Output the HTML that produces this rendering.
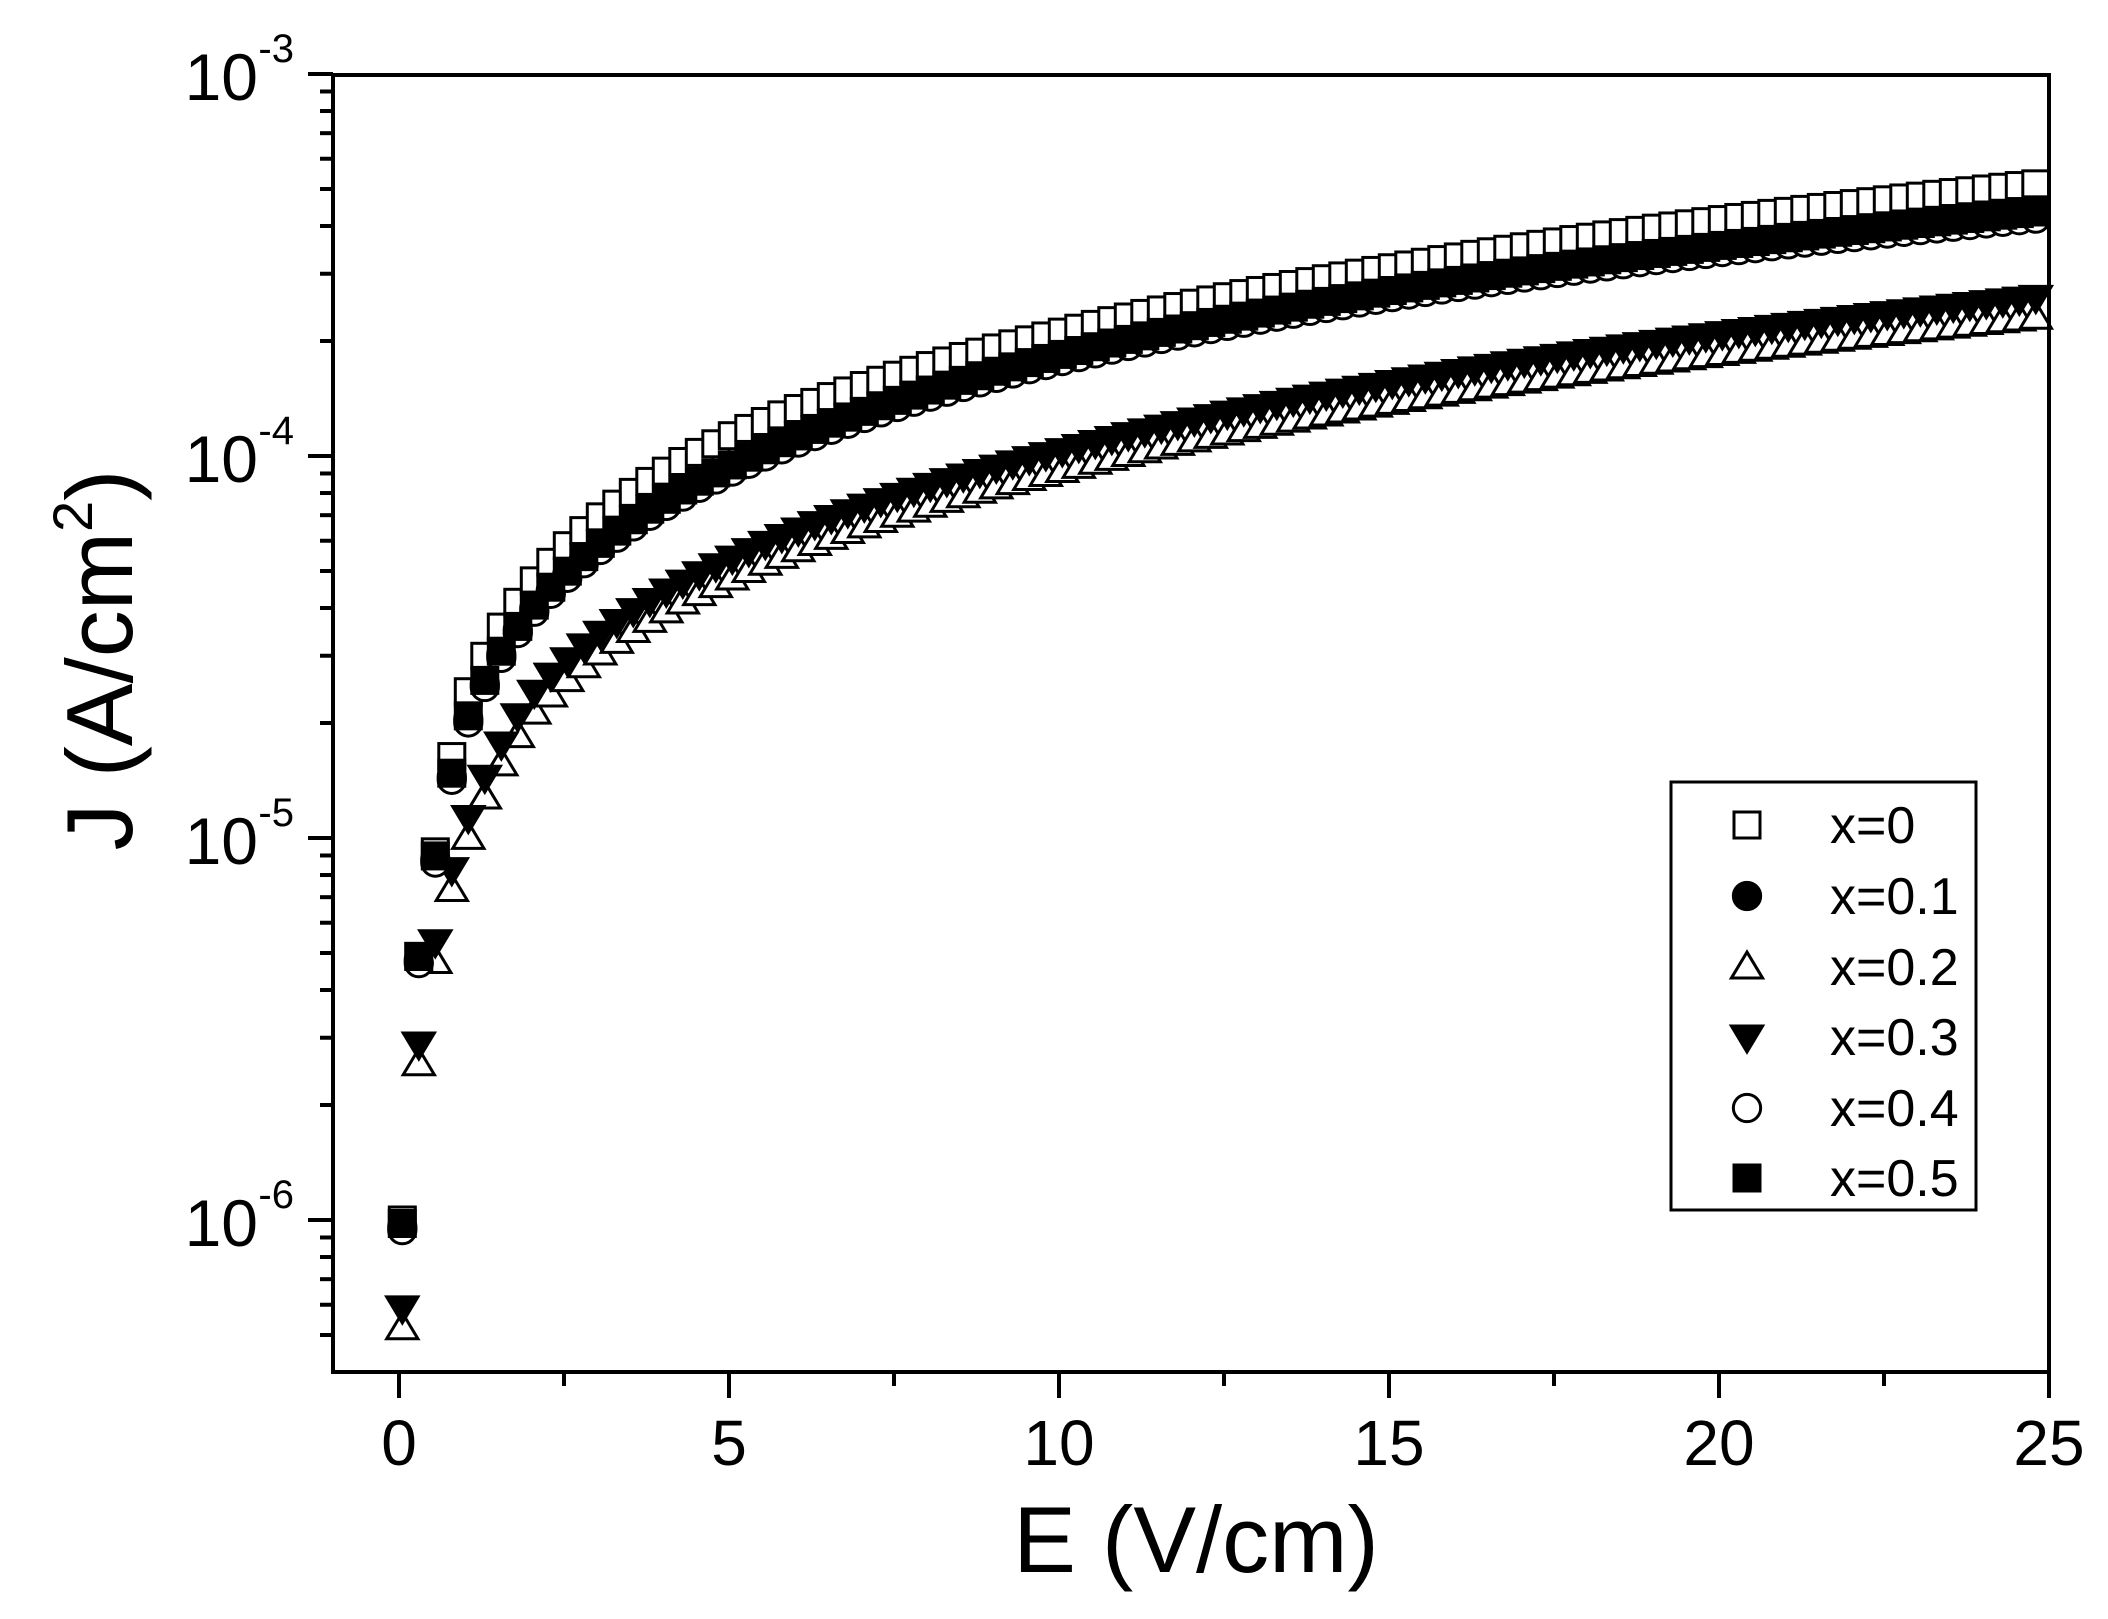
<!DOCTYPE html>
<html><head><meta charset="utf-8"><style>
html,body{margin:0;padding:0;background:#fff;}
svg{display:block;}
text{font-family:"Liberation Sans",Arial,sans-serif;fill:#000;}
</style></head><body>
<svg id="s" width="2108" height="1619" viewBox="0 0 2108 1619" xmlns="http://www.w3.org/2000/svg">
<rect width="2108" height="1619" fill="#fff"/>
<g id="data"></g>
<rect x="333" y="75" width="1716" height="1297" fill="none" stroke="#000" stroke-width="4"/>
<g id="ticks" stroke="#000" stroke-width="4"></g>
<g font-size="64" text-anchor="middle">
<text x="399" y="1465">0</text><text x="729" y="1465">5</text><text x="1059" y="1465">10</text>
<text x="1389" y="1465">15</text><text x="1719" y="1465">20</text><text x="2049" y="1465">25</text>
</g>
<g font-size="66" text-anchor="end">
<text x="258" y="100">10</text><text x="294" y="62" font-size="40">-3</text>
<text x="258" y="482">10</text><text x="294" y="444" font-size="40">-4</text>
<text x="258" y="864">10</text><text x="294" y="826" font-size="40">-5</text>
<text x="258" y="1246">10</text><text x="294" y="1208" font-size="40">-6</text>
</g>
<text x="1196" y="1572" font-size="94" text-anchor="middle">E (V/cm)</text>
<text transform="translate(132,660) rotate(-90)" font-size="94" text-anchor="middle">J (A/cm<tspan font-size="56" dy="-40">2</tspan><tspan dy="40">)</tspan></text>
<rect x="1671" y="782" width="305" height="428" fill="#fff" stroke="#000" stroke-width="3"/>
<g id="leg"></g>
<g font-size="52">
<text x="1830" y="843">x=0</text><text x="1830" y="914">x=0.1</text><text x="1830" y="985">x=0.2</text>
<text x="1830" y="1055">x=0.3</text><text x="1830" y="1126">x=0.4</text><text x="1830" y="1196">x=0.5</text>
</g>
</svg>
<script>
var NS="http://www.w3.org/2000/svg";
function X(e){return 399+66*e;}
function Y(j){return 74+(-3-Math.log10(j))*382;}
function mk(type,cx,cy,r){
  var el;
  if(type=="sq"||type=="fsq"){el=document.createElementNS(NS,"rect");el.setAttribute("x",cx-r);el.setAttribute("y",cy-r);el.setAttribute("width",2*r);el.setAttribute("height",2*r);}
  else if(type=="ci"||type=="oci"){el=document.createElementNS(NS,"circle");el.setAttribute("cx",cx);el.setAttribute("cy",cy);el.setAttribute("r",r*1.05);}
  else if(type=="tu"){el=document.createElementNS(NS,"polygon");el.setAttribute("points",(cx)+","+(cy-r*1.15)+" "+(cx-r*1.2)+","+(cy+r*0.85)+" "+(cx+r*1.2)+","+(cy+r*0.85));}
  else {el=document.createElementNS(NS,"polygon");el.setAttribute("points",(cx)+","+(cy+r*1.15)+" "+(cx-r*1.2)+","+(cy-r*0.85)+" "+(cx+r*1.2)+","+(cy-r*0.85));}
  var filled=(type=="ci"||type=="fsq"||type=="td");
  el.setAttribute("fill",filled?"#000":"#fff");el.setAttribute("stroke","#000");el.setAttribute("stroke-width","3");
  return el;
}
function interp(pts,e){
  var le=Math.log(e);
  for(var i=0;i<pts.length-1;i++){
    if(e<=pts[i+1][0]||i==pts.length-2){
      var a=Math.log(pts[i][0]),b=Math.log(pts[i+1][0]);
      var t=(le-a)/(b-a);
      return Math.exp(Math.log(pts[i][1])*(1-t)+Math.log(pts[i+1][1])*t);
    }
  }
}
function scale(pts,k){return pts.map(function(p){return [p[0],p[1]*k];});}
var top0=[[0.05,1.0e-6],[0.3,4.9e-6],[0.55,9.2e-6],[1,2.3e-5],[2,4.6e-5],[5,1.12e-4],[10,2.1e-4],[15,3.1e-4],[25,5.2e-4]];
var mid=[[0.05,9.6e-7],[0.3,4.8e-6],[0.55,8.8e-6],[1,1.95e-5],[2,3.9e-5],[5,9.2e-5],[10,1.8e-4],[15,2.65e-4],[25,4.3e-4]];
var low=[[0.05,5.5e-7],[0.3,2.7e-6],[0.55,5.0e-6],[1,1.0e-5],[2,2.2e-5],[5,5.0e-5],[10,9.6e-5],[15,1.45e-4],[25,2.45e-4]];
var series=[["sq",top0],["ci",mid],["tu",scale(low,0.95)],["td",scale(low,1.07)],["oci",scale(mid,0.98)],["fsq",scale(mid,1.02)]];
var g=document.getElementById("data");
series.forEach(function(s){
  for(var e=0.05;e<=25.01;e+=0.25){
    g.appendChild(mk(s[0],X(e),Y(interp(s[1],e)),13));
  }
});
var t=document.getElementById("ticks");
function ln(x1,y1,x2,y2){var l=document.createElementNS(NS,"line");l.setAttribute("x1",x1);l.setAttribute("y1",y1);l.setAttribute("x2",x2);l.setAttribute("y2",y2);t.appendChild(l);}
for(var i=0;i<=10;i++){var x=X(i*2.5);ln(x,1372,x,1372+(i%2==0?26:14));}
for(var d=-6;d<=-3;d++){
  ln(333,Y(Math.pow(10,d)),308,Y(Math.pow(10,d)));
  if(d<-3)for(var m=2;m<=9;m++){var y=Y(m*Math.pow(10,d));ln(333,y,320,y);}
}
for(var m=4;m<=9;m++){var y=Y(m*1e-7);if(y<1372)ln(333,y,320,y);}
var lg=document.getElementById("leg");
var ly=[825,896,967,1037,1108,1178];
series.forEach(function(s,i){lg.appendChild(mk(s[0],1747,ly[i],13));});
</script>
</body></html>
